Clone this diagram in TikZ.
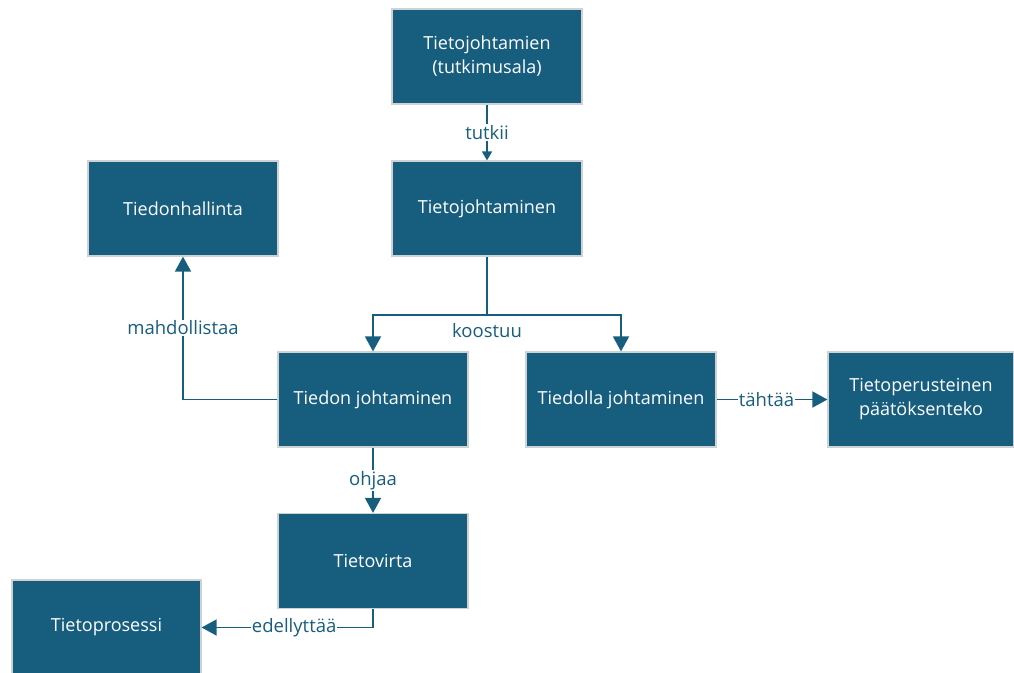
\documentclass[tikz,border=0pt]{standalone}
\usepackage{fontspec}
\setmainfont{Open Sans}
\usetikzlibrary{arrows.meta}
\definecolor{boxc}{RGB}{23,94,126}
\definecolor{edgec}{RGB}{205,210,212}
\begin{document}
\begin{tikzpicture}[x=1pt,y=-1pt,
  box/.style={draw=edgec,line width=1.2pt,fill=boxc,text=white,minimum width=190pt,minimum height=95pt,align=center,inner sep=0pt,font=\fontsize{18}{24}\selectfont},
  conn/.style={draw=boxc,line width=1.6pt,-{Triangle[width=16pt,length=15pt]}},
  smallconn/.style={draw=boxc,line width=1.6pt,-{Triangle[width=10pt,length=9pt]}},
  lbl/.style={fill=white,text=boxc,inner sep=1pt,font=\fontsize{18.5}{20}\selectfont}]
\useasboundingbox (0,0) rectangle (1014,672);
\node[box] (tut) at (487,56.5) {Tietojohtamien\\(tutkimusala)};
\node[box] (tj) at (487,208.5) {Tietojohtaminen};
\node[box] (th) at (183,208.5) {Tiedonhallinta};
\node[box] (tdj) at (373,399.5) {Tiedon johtaminen};
\node[box] (tlj) at (621,399.5) {Tiedolla johtaminen};
\node[box,minimum width=186pt] (tpp) at (921,399.5) {Tietoperusteinen\\päätöksenteko};
\node[box] (tv) at (373,561) {Tietovirta};
\node[box,minimum width=189pt] (tp) at (106.5,627.5) {Tietoprosessi};
\coordinate (split) at (487,315);
\draw[smallconn] (tut) -- node[lbl] {tutkii} (tj);
\draw[draw=boxc,line width=1.6pt] (tj.south) -- (split);
\draw[conn] (split) -| (tdj.north);
\draw[conn] (split) -| (tlj.north);
\node[lbl] (koo) at (487,331) {koostuu};
\draw[conn] (tdj.west) -| node[lbl,pos=0.75] {mahdollistaa} (th.south);
\draw[conn] (tdj) -- node[lbl,pos=0.5] {ohjaa} (tv);
\draw[conn] (tlj) -- node[lbl,pos=0.45] {tähtää} (tpp);
\draw[conn] (tv.south) |- node[lbl,pos=0.73] {edellyttää} (tp.east);
\end{tikzpicture}
\end{document}
